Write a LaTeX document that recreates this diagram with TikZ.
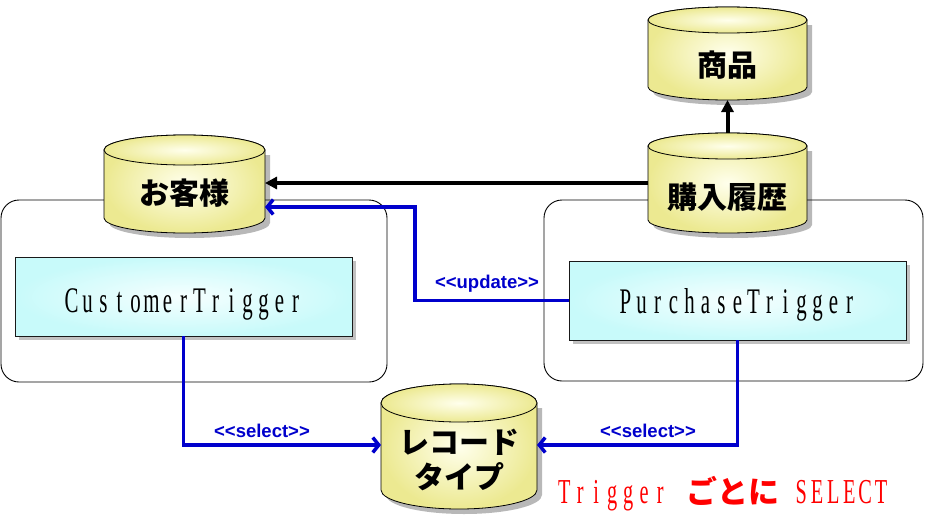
\documentclass[tikz,border=0pt]{standalone}
\usepackage{fontspec}
\setmainfont{Liberation Serif}
\newfontfamily\jp{Noto Sans CJK JP}
\newfontfamily\lab{Liberation Sans}
\newfontfamily\nserif[FakeStretch=0.58]{Liberation Serif}
\usetikzlibrary{arrows.meta,shadows}
\newlength\mpitch \setlength\mpitch{16pt}
\def\mlist#1{\ifx#1\relax\else\makebox[\mpitch][c]{#1}\expandafter\mlist\fi}
\definecolor{cylout}{RGB}{236,233,145}
\definecolor{cylin}{RGB}{255,255,236}
\definecolor{trout}{RGB}{200,250,250}
\definecolor{trin}{RGB}{246,255,255}
\definecolor{blu}{RGB}{0,0,204}
\newcommand\dbcyl[5]{%
  \fill[black,opacity=0.28] (#1-#4+5,#2+5) -- (#1-#4+5,#3+5) arc(180:0:#4 and #5) -- (#1+#4+5,#2+5) -- cycle;
  \shadedraw[cylshade] (#1-#4,#2) -- (#1-#4,#3) arc(180:0:#4 and #5) -- (#1+#4,#2) arc(0:-180:#4 and #5) -- cycle;
  \shadedraw[cylshade] (#1,#2) ellipse (#4 and #5);
}
\tikzset{
  cylshade/.style={inner color=cylin, outer color=cylout, draw=black, line width=0.8pt},
  cyllab/.style={font=\jp\bfseries\fontsize{30}{35}\selectfont, inner sep=0pt, outer sep=0pt},
  container/.style={draw=black, line width=0.9pt, rounded corners=18pt, inner sep=0pt},
  trig/.style={draw=black!90, line width=0.9pt, inner color=trin, outer color=trout,
    minimum width=337pt, minimum height=79pt, inner sep=0pt, outer sep=0pt,
    font=\nserif\fontsize{36}{40}\selectfont, text depth=0pt,
    drop shadow={shadow xshift=4pt, shadow yshift=-4pt, opacity=0.35, fill=black!70}},
  blkarrow/.style={draw=black, line width=4pt, -{Triangle[length=12pt,width=12pt]}},
  bluarrow/.style={draw=blu, line width=3.5pt, line join=miter, -{Straight Barb[length=6pt,width=15pt]}},
  lbl/.style={font=\lab\bfseries\fontsize{18.5}{20}\selectfont, text=blu, inner sep=0pt},
}
\begin{document}
\begin{tikzpicture}[x=1pt,y=-1pt]
\useasboundingbox (0,0) rectangle (926,530);
% containers
\node[container, minimum width=386pt, minimum height=182pt] (lbox) at (194,291) {};
\node[container, minimum width=379pt, minimum height=181pt] (rbox) at (733.5,290.5) {};
% cylinders
\dbcyl{184.5}{150}{218}{80.5}{15}
\dbcyl{727.5}{20}{87}{79.5}{13}
\dbcyl{727.5}{146}{220}{79.5}{13}
\dbcyl{459}{403}{490}{78}{19}
\node[cyllab, minimum width=161pt] (kyaku) at (184.5,193) {お客様};
\node[cyllab, minimum width=159pt, minimum height=70pt] (shohin) at (727.5,65) {商品};
\node[cyllab, minimum width=159pt, minimum height=128pt] (rireki) at (727.5,197) {購入履歴};
\node[cyllab, minimum width=156pt, align=center] (reco) at (459,459.5) {レコード\\タイプ};
% trigger boxes
\node[trig, text height=31pt] (ct) at (183.5,296.5) {\mlist CustomerTrigger\relax};
\node[trig, text height=25pt] (pt) at (737.5,300.5) {\mlist PurchaseTrigger\relax};
% connectors
\draw[blkarrow] ([yshift=14pt]rireki.west) -- ([yshift=10pt]kyaku.east);
\draw[blkarrow] (rireki.north) -- (shohin.south);
\draw[bluarrow] (pt.west) -- ++(-154,0) |- ([yshift=-14pt]kyaku.east);
\draw[bluarrow] (ct.south) |- ([yshift=14.5pt]reco.west);
\draw[bluarrow] (pt.south) |- ([yshift=14.5pt]reco.east);
% labels
\node[lbl] (lupd) at (487,284) {<\kern0pt<update>\kern0pt>};
\node[lbl] (lsel1) at (262,431) {<\kern0pt<select>\kern0pt>};
\node[lbl] (lsel2) at (648,431) {<\kern0pt<select>\kern0pt>};
% note
\node[anchor=base west, inner sep=0pt, text=red] (note) at (556,503)
  {\nserif\fontsize{35}{40}\selectfont\mlist Trigger\relax\hspace{18pt}{\jp\bfseries\fontsize{31}{35}\selectfont ごとに}\hspace{14pt}\mlist SELECT\relax};
\end{tikzpicture}
\end{document}
